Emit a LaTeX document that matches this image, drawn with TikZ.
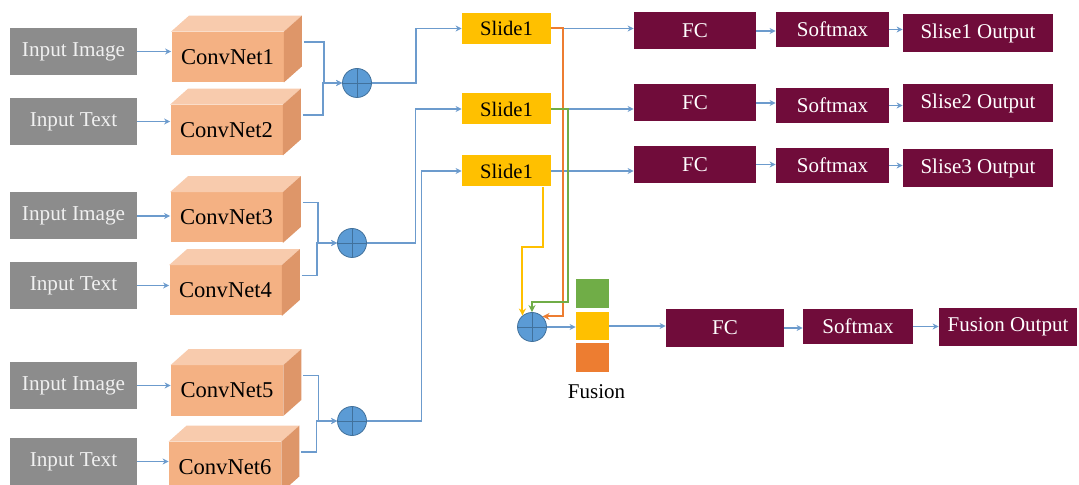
\documentclass[tikz,border=0pt]{standalone}
\usepackage{fontspec}
\setmainfont{Liberation Serif}
\usepackage{xcolor}
\usepackage{tikz}
\usetikzlibrary{
    arrows.meta,
    positioning,
    calc
}
\definecolor{inputgray}{RGB}{140,140,140}
\definecolor{netfront}{RGB}{244,177,131}
\definecolor{nettop}{RGB}{248,203,173}
\definecolor{netside}{RGB}{222,150,105}
\definecolor{plusblue}{RGB}{91,155,213}
\definecolor{plusedge}{RGB}{65,113,156}
\definecolor{slideyellow}{RGB}{255,192,0}
\definecolor{headred}{RGB}{112,12,58}
\definecolor{linkblue}{RGB}{108,155,205}
\definecolor{fuseorange}{RGB}{237,125,49}
\definecolor{fusegreen}{RGB}{112,173,71}
\tikzset{
    inputbox/.style={
        fill=inputgray,
        text=white!94!black,
        minimum width=63.5pt,
        minimum height=23.5pt,
        font=\fontsize{10.6}{12}\selectfont
    }
}
\tikzset{
    netbox/.style={
        fill=netfront,
        minimum width=56pt,
        minimum height=25pt,
        font=\fontsize{11.3}{13}\selectfont
    }
}
\tikzset{
    sumnode/.style={
        circle,
        fill=plusblue,
        draw=plusedge,
        line width=0.4pt,
        minimum size=14.5pt,
        inner sep=0pt,
        path picture={
            \draw[plusedge, line width=0.4pt]
                (path picture bounding box.north) -- (path picture bounding box.south)
                (path picture bounding box.west) -- (path picture bounding box.east);
        }
    }
}
\tikzset{
    slidebox/.style={
        fill=slideyellow,
        minimum width=44.5pt,
        minimum height=15.5pt,
        font=\fontsize{10.3}{12}\selectfont
    }
}
\tikzset{
    headbox/.style={
        fill=headred,
        text=white,
        minimum height=18.5pt,
        font=\fontsize{10.5}{12}\selectfont
    }
}
\tikzset{
    fuseblock/.style={
        minimum width=16.5pt,
        minimum height=14.5pt,
        inner sep=0pt
    }
}
\tikzset{
    link/.style={
        draw=linkblue,
        line width=0.65pt,
        -{Stealth[length=3pt,width=3pt]}
    }
}
\tikzset{
    branch/.style={
        line width=1pt,
        -{Stealth[length=3.5pt,width=3.5pt]}
    }
}

\begin{document}
\begin{tikzpicture}[
    x=0.5pt, y=-0.5pt,
    font=\fontsize{10.5}{12}\selectfont
]

\useasboundingbox (0,0) rectangle (1079,485);
\fill[white] (0,0) rectangle (1079,485);
\clip (0,0) rectangle (1079,485);

% =========================================================
% Inputs
% =========================================================

\node[inputbox] (img1) at (73.5,51.5)  {Input Image};
\node[inputbox] (txt1) at (73.5,121.5) {Input Text};
\node[inputbox] (img2) at (73.5,216)   {Input Image};
\node[inputbox] (txt2) at (73.5,285.5) {Input Text};
\node[inputbox] (img3) at (73.5,385.5) {Input Image};
\node[inputbox] (txt3) at (73.5,461.5) {Input Text};


% =========================================================
% ConvNets
% =========================================================

\node[netbox] (net1) at (227.5,57)  {ConvNet1};
\node[netbox] (net2) at (226.5,130) {ConvNet2};
\node[netbox] (net3) at (226.5,217.5) {ConvNet3};
\node[netbox] (net4) at (225.5,290.5) {ConvNet4};
\node[netbox] (net5) at (227,390.5) {ConvNet5};
\node[netbox] (net6) at (225,467)   {ConvNet6};

\foreach \i in {1,...,6} {
    \fill[nettop] (net\i.north west) -- ++(18,-16)
        -- ([shift={(18,-16)}]net\i.north east) -- (net\i.north east) -- cycle;
    \fill[netside] (net\i.north east) -- ++(18,-16)
        -- ([shift={(18,-16)}]net\i.south east) -- (net\i.south east) -- cycle;
}

\draw[link] (img1.east) -- (img1.east -| net1.west);
\draw[link] (txt1.east) -- (txt1.east -| net2.west);
\draw[link] (img2.east) -- (img2.east -| net3.west);
\draw[link] (txt2.east) -- (txt2.east -| net4.west);
\draw[link] (img3.east) -- (img3.east -| net5.west);
\draw[link] (txt3.east) -- (txt3.east -| net6.west);


% =========================================================
% Sums
% =========================================================

\node[sumnode] (sum1) at (357,83)  {};
\node[sumnode] (sum2) at (352,243) {};
\node[sumnode] (sum3) at (352,421) {};

\draw[link] ([shift={(20,-15)}]net1.east) -- ++(20,0) |- (sum1);
\draw[link] ([shift={(20,-15)}]net2.east) -- ++(20,0) |- (sum1);
\draw[link] ([shift={(20,-15)}]net3.east) -- ++(15,0) |- (sum2);
\draw[link] ([shift={(20,-15)}]net4.east) -- ++(15,0) |- (sum2);
\draw[link] ([shift={(20,-15)}]net5.east) -- ++(15,0) |- (sum3);
\draw[link] ([shift={(20,-15)}]net6.east) -- ++(15,0) |- (sum3);


% =========================================================
% Slides and heads
% =========================================================

\node[slidebox] (slideA) at (506.5,28.5) {Slide1};
\node[slidebox] (slideB) at (506.5,109)  {Slide1};
\node[slidebox] (slideC) at (506.5,171)  {Slide1};

\draw[link] (sum1.east) -- ++(44,0) |- (slideA);
\draw[link] (sum2.east) -- ++(48.5,0) |- (slideB);
\draw[link] (sum3.east) -- ++(54.5,0) |- (slideC);

\node[headbox, minimum width=61pt] (fc1) at (695,31)    {FC};
\node[headbox, minimum width=61pt] (fc2) at (695,103)   {FC};
\node[headbox, minimum width=61pt] (fc3) at (695,164.5) {FC};

\node[headbox, minimum width=56.5pt, minimum height=17.5pt] (sm1) at (832.5,29.5)  {Softmax};
\node[headbox, minimum width=56.5pt, minimum height=17.5pt] (sm2) at (832.5,105.5) {Softmax};
\node[headbox, minimum width=56.5pt, minimum height=17.5pt] (sm3) at (832.5,165.5) {Softmax};

\node[headbox, minimum width=75pt, minimum height=19pt] (out1) at (978,33)    {Slise1 Output};
\node[headbox, minimum width=75pt, minimum height=19pt] (out2) at (978,103)   {Slise2 Output};
\node[headbox, minimum width=75pt, minimum height=19pt] (out3) at (978,168.5) {Slise3 Output};

\draw[link] (slideA.east) -- (slideA.east -| fc1.west);
\draw[link] (slideB.east) -- (slideB.east -| fc2.west);
\draw[link] (slideC.east) -- (slideC.east -| fc3.west);

\foreach \i in {1,2,3} {
    \draw[link] (fc\i.east) -- (fc\i.east -| sm\i.west);
    \draw[link] (sm\i.east) -- (sm\i.east -| out\i.west);
}


% =========================================================
% Fusion
% =========================================================

\node[sumnode] (sum4) at (532,327) {};

\draw[branch, fuseorange] (slideA.east) -- ++(12,0) |- (sum4.45);
\draw[branch, fusegreen] (slideB.east) -- ++(17,0) |- ([yshift=5pt]sum4.north) -- (sum4.north);
\draw[branch, slideyellow] ([xshift=-4pt]slideC.south east) -- ++(0,60) -| (sum4.130);

\node[fuseblock, fill=fusegreen]   (fz1) at (592.5,293.5) {};
\node[fuseblock, fill=slideyellow, minimum height=14pt] (fz2) at (592.5,326) {};
\node[fuseblock, fill=fuseorange]  (fz3) at (592.5,357.5) {};

\node[
    below=2.5pt of fz3,
    xshift=2pt
] (fuselabel) {Fusion};

\node[headbox, minimum width=59pt, minimum height=19pt] (fc4) at (725,328)    {FC};
\node[headbox, minimum width=55pt, minimum height=17.5pt] (sm4) at (858,326.5) {Softmax};
\node[headbox, minimum width=69pt, minimum height=19pt] (out4) at (1008,327)  {Fusion Output};

\draw[link] (sum4.east) -- (sum4.east -| fz2.west);
\draw[link] (fz2.east) -- (fz2.east -| fc4.west);
\draw[link] (fc4.east) -- (fc4.east -| sm4.west);
\draw[link] (sm4.east) -- (sm4.east -| out4.west);

\end{tikzpicture}
\end{document}
